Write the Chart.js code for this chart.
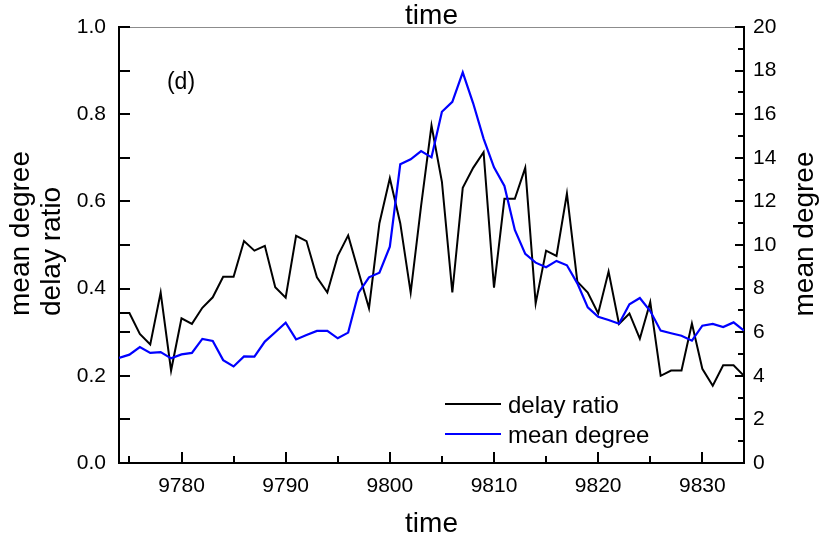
<!DOCTYPE html>
<html>
<head>
    <meta charset="utf-8">
    <title>delay ratio / mean degree</title>
    <style>
        html, body { margin: 0; padding: 0; background: #fff; }
        #wrap { width: 820px; height: 540px; }
    </style>
    <script src="https://cdn.jsdelivr.net/npm/chart.js"></script>
</head>
<body>
    <div id="wrap"><canvas id="chart" width="820" height="540"></canvas></div>

    <script>
        var times = [9774, 9775, 9776, 9777, 9778, 9779, 9780, 9781, 9782, 9783,
                     9784, 9785, 9786, 9787, 9788, 9789, 9790, 9791, 9792, 9793,
                     9794, 9795, 9796, 9797, 9798, 9799, 9800, 9801, 9802, 9803,
                     9804, 9805, 9806, 9807, 9808, 9809, 9810, 9811, 9812, 9813,
                     9814, 9815, 9816, 9817, 9818, 9819, 9820, 9821, 9822, 9823,
                     9824, 9825, 9826, 9827, 9828, 9829, 9830, 9831, 9832, 9833,
                     9834];

        var delayRatio = [0.344, 0.344, 0.296, 0.272, 0.391, 0.212, 0.332, 0.319, 0.356, 0.380,
                          0.427, 0.427, 0.509, 0.487, 0.498, 0.403, 0.379, 0.521, 0.509, 0.426,
                          0.391, 0.475, 0.522, 0.438, 0.355, 0.550, 0.653, 0.550, 0.391, 0.590,
                          0.774, 0.645, 0.391, 0.631, 0.677, 0.713, 0.402, 0.606, 0.606, 0.677,
                          0.366, 0.487, 0.475, 0.618, 0.416, 0.391, 0.343, 0.439, 0.319, 0.343,
                          0.285, 0.369, 0.200, 0.212, 0.212, 0.320, 0.216, 0.177, 0.224, 0.224,
                          0.200];

        var meanDegree = [4.82, 4.97, 5.32, 5.05, 5.09, 4.80, 4.98, 5.05, 5.69, 5.60,
                          4.72, 4.43, 4.89, 4.88, 5.57, 6.00, 6.44, 5.67, 5.87, 6.06,
                          6.06, 5.72, 5.98, 7.81, 8.52, 8.73, 9.92, 13.70, 13.93, 14.31,
                          14.02, 16.11, 16.57, 17.92, 16.50, 14.88, 13.56, 12.71, 10.69, 9.59,
                          9.19, 8.98, 9.27, 9.07, 8.24, 7.14, 6.71, 6.56, 6.39, 7.28,
                          7.57, 6.97, 6.07, 5.95, 5.84, 5.61, 6.30, 6.38, 6.24, 6.45,
                          6.07];

        var xMajorTicks = [9780, 9790, 9800, 9810, 9820, 9830];
        var xMinorTicks = [9775, 9785, 9795, 9805, 9815, 9825];
        var leftMajorTicks = [0, 0.2, 0.4, 0.6, 0.8, 1.0];
        var leftMinorTicks = [0.1, 0.3, 0.5, 0.7, 0.9];
        var rightMajorTicks = [0, 2, 4, 6, 8, 10, 12, 14, 16, 18, 20];
        var rightMinorTicks = [1, 3, 5, 7, 9, 11, 13, 15, 17, 19];

        var FONT = '"Liberation Sans", Arial, sans-serif';

        function toPoints(values) {
            return times.map(function(t, i) { return { x: t, y: values[i] }; });
        }

        function setTicks(list) {
            return function(scale) {
                scale.ticks = list.map(function(v) { return { value: v }; });
            };
        }

        // ticks inward, titles, (d) and the legend inside the plot
        var extras = {
            id: 'extras',
            afterDraw: function(chart) {
                var ctx = chart.ctx;
                var area = chart.chartArea;
                var x = chart.scales.x, y = chart.scales.y, y2 = chart.scales.y2;

                ctx.save();
                ctx.strokeStyle = '#000';
                ctx.lineWidth = 2;
                ctx.beginPath();
                xMajorTicks.forEach(function(v) {
                    var px = Math.round(x.getPixelForValue(v));
                    ctx.moveTo(px, area.bottom); ctx.lineTo(px, area.bottom - 11);
                });
                xMinorTicks.forEach(function(v) {
                    var px = Math.round(x.getPixelForValue(v));
                    ctx.moveTo(px, area.bottom); ctx.lineTo(px, area.bottom - 7);
                });
                leftMajorTicks.concat(leftMinorTicks).forEach(function(v) {
                    var py = Math.round(y.getPixelForValue(v));
                    ctx.moveTo(area.left, py); ctx.lineTo(area.left + 11, py);
                });
                rightMajorTicks.forEach(function(v) {
                    var py = Math.round(y2.getPixelForValue(v));
                    ctx.moveTo(area.right, py); ctx.lineTo(area.right - 9, py);
                });
                rightMinorTicks.forEach(function(v) {
                    var py = Math.round(y2.getPixelForValue(v));
                    ctx.moveTo(area.right, py); ctx.lineTo(area.right - 6, py);
                });
                ctx.stroke();

                ctx.fillStyle = '#000';
                var cx = (area.left + area.right) / 2;
                ctx.font = '28px ' + FONT;
                ctx.textAlign = 'center';
                ctx.textBaseline = 'alphabetic';
                ctx.fillText('time', cx, 24);
                ctx.fillText('time', cx, 532);

                // left titles, two lines
                ctx.save();
                ctx.translate(29, 316);
                ctx.rotate(-Math.PI / 2);
                ctx.textAlign = 'left';
                ctx.fillText('mean degree', 0, 0);
                ctx.fillText('delay ratio', 0, 31);
                ctx.restore();

                ctx.save();
                ctx.translate(813, 234);
                ctx.rotate(-Math.PI / 2);
                ctx.textAlign = 'center';
                ctx.fillText('mean degree', 0, 0);
                ctx.restore();

                ctx.font = '23px ' + FONT;
                ctx.textAlign = 'center';
                ctx.fillText('(d)', 181, 89);

                // legend
                var items = chart.data.datasets;
                var ly = [404, 434];
                ctx.font = '24px ' + FONT;
                ctx.textAlign = 'left';
                ctx.textBaseline = 'middle';
                items.forEach(function(ds, i) {
                    ctx.strokeStyle = ds.borderColor;
                    ctx.lineWidth = ds.borderWidth;
                    ctx.beginPath();
                    ctx.moveTo(445, ly[i]); ctx.lineTo(501, ly[i]);
                    ctx.stroke();
                    ctx.fillText(ds.label, 508, ly[i] + 2);
                });
                ctx.restore();
            }
        };

        var ctx = document.getElementById('chart').getContext('2d');
        var chart = new Chart(ctx, {
            type: 'line',
            data: {
                datasets: [{
                    label: 'delay ratio',
                    data: toPoints(delayRatio),
                    yAxisID: 'y',
                    borderColor: '#000000',
                    borderWidth: 2,
                    pointRadius: 0,
                    tension: 0,
                    order: 1
                }, {
                    label: 'mean degree',
                    data: toPoints(meanDegree),
                    yAxisID: 'y2',
                    borderColor: '#0000ff',
                    borderWidth: 2.2,
                    pointRadius: 0,
                    tension: 0,
                    order: 0
                }]
            },
            options: {
                responsive: false,
                animation: false,
                layout: { padding: 0 },
                plugins: {
                    legend: { display: false },
                    tooltip: { enabled: false }
                },
                scales: {
                    x: {
                        type: 'linear',
                        position: 'bottom',
                        min: 9774,
                        max: 9834,
                        afterBuildTicks: setTicks(xMajorTicks),
                        afterFit: function(s) { s.height = 77; },
                        grid: { display: false, drawTicks: false },
                        border: { display: true, color: '#000', width: 2 },
                        ticks: {
                            color: '#000',
                            font: { family: FONT, size: 21 },
                            padding: 11,
                            maxRotation: 0,
                            autoSkip: false,
                            callback: function(v) { return String(v); }
                        }
                    },
                    x2: {
                        type: 'linear',
                        position: 'top',
                        min: 9774,
                        max: 9834,
                        afterFit: function(s) { s.height = 27; },
                        grid: { display: false, drawTicks: false },
                        border: { display: true, color: '#8c8c8c', width: 1 },
                        ticks: { display: false }
                    },
                    y: {
                        position: 'left',
                        min: 0,
                        max: 1,
                        afterBuildTicks: setTicks(leftMajorTicks),
                        afterFit: function(s) { s.width = 119; },
                        grid: { display: false, drawTicks: false },
                        border: { display: true, color: '#000', width: 2 },
                        ticks: {
                            color: '#000',
                            font: { family: FONT, size: 21 },
                            padding: 13,
                            callback: function(v) { return v.toFixed(1); }
                        }
                    },
                    y2: {
                        position: 'right',
                        min: 0,
                        max: 20,
                        afterBuildTicks: setTicks(rightMajorTicks),
                        afterFit: function(s) { s.width = 76; },
                        grid: { display: false, drawTicks: false },
                        border: { display: true, color: '#000', width: 2 },
                        ticks: {
                            color: '#000',
                            font: { family: FONT, size: 21 },
                            padding: 9,
                            callback: function(v) { return String(v); }
                        }
                    }
                }
            },
            plugins: [extras]
        });
    </script>
</body>
</html>
